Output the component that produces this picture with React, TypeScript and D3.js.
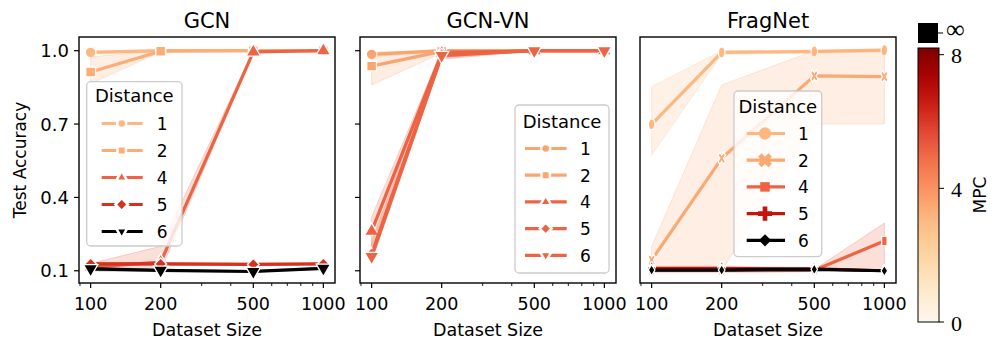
import React from 'react';
import * as d3 from 'd3';

// ---------- data ----------
const sizes = [100, 200, 500, 1000];
const distances = ['1', '2', '4', '5', '6'];
const panelTitles = ['GCN', 'GCN-VN', 'FragNet'];
const yTicks = [0.1, 0.4, 0.7, 1.0];
const xTicks = [100, 200, 500, 1000];
const xMinorTicks = [90, 300, 400, 600, 700, 800, 900];
const cbarTicks = [0, 4, 8];

// MPC per distance (Infinity = black)
const gcnMPC = [3, 3.3, 5, 6, Infinity];
const gcnvnMPC = [3.5, 3.5, 5, 5, 5];
const fragMPC = [3, 3.4, 5, 6.6, Infinity];

// GCN
const gcnMean = [
  [0.993, 1.0, 1.0, 1.0],
  [0.913, 0.998, 1.0, 1.0],
  [0.115, 0.135, 0.995, 1.0],
  [0.128, 0.128, 0.126, 0.128],
  [0.108, 0.102, 0.097, 0.11],
];
const gcnLo = [
  [0.985, 0.997, 1.0, 1.0],
  [0.865, 0.995, 1.0, 1.0],
  [0.1, 0.1, 0.99, 1.0],
  [0.122, 0.122, 0.121, 0.124],
  [0.1, 0.098, 0.094, 0.106],
];
const gcnHi = [
  [1.0, 1.0, 1.0, 1.0],
  [0.975, 1.0, 1.0, 1.0],
  [0.13, 0.2, 1.0, 1.0],
  [0.134, 0.134, 0.131, 0.132],
  [0.115, 0.106, 0.1, 0.114],
];

// GCN-VN
const gcnvnMean = [
  [0.985, 1.0, 1.0, 1.0],
  [0.937, 0.997, 1.0, 1.0],
  [0.262, 0.99, 1.0, 1.0],
  [0.17, 0.985, 1.0, 1.0],
  [0.158, 0.98, 1.0, 1.0],
];
const gcnvnLo = [
  [0.975, 0.998, 1.0, 1.0],
  [0.86, 0.99, 1.0, 1.0],
  [0.2, 0.975, 1.0, 1.0],
  [0.14, 0.97, 1.0, 1.0],
  [0.14, 0.965, 1.0, 1.0],
];
const gcnvnHi = [
  [0.995, 1.0, 1.0, 1.0],
  [0.99, 1.0, 1.0, 1.0],
  [0.32, 1.0, 1.0, 1.0],
  [0.22, 1.0, 1.0, 1.0],
  [0.18, 1.0, 1.0, 1.0],
];

// FragNet
const fragMean = [
  [0.699, 0.993, 0.997, 1.002],
  [0.144, 0.56, 0.897, 0.894],
  [0.1, 0.1, 0.102, 0.222],
  [0.11, 0.11, 0.108, 0.1],
  [0.103, 0.103, 0.106, 0.1],
];
const fragLo = [
  [0.573, 0.985, 0.99, 0.995],
  [0.1, 0.1, 0.7, 0.7],
  [0.1, 0.1, 0.1, 0.1],
  [0.105, 0.105, 0.103, 0.097],
  [0.1, 0.1, 0.103, 0.097],
];
const fragHi = [
  [0.853, 1.0, 1.0, 1.008],
  [0.2, 0.86, 1.0, 1.0],
  [0.1, 0.1, 0.105, 0.295],
  [0.115, 0.115, 0.113, 0.103],
  [0.106, 0.106, 0.109, 0.103],
];

// ---------- layout / style ----------
const W = 997;
const H = 347;
const TOP = 37;
const BOTTOM = 283;
const PW = 256;
const panelLeft = [79, 360, 640];
const FONT = 'DejaVu Sans, sans-serif';
const SERIF = 'Liberation Serif, serif';

const circle = { type: d3.symbolCircle, rot: 0 };
const square = { type: d3.symbolSquare, rot: 0 };
const triUp = { type: d3.symbolTriangle, rot: 0 };
const triDown = { type: d3.symbolTriangle, rot: 180 };
const diamond = { type: d3.symbolSquare, rot: 45 };
const cross = { type: d3.symbolCross, rot: 0 };
const xMark = { type: d3.symbolCross, rot: 45 };

const panels = [
  {
    mean: gcnMean, lo: gcnLo, hi: gcnHi, mpc: gcnMPC,
    markers: [circle, square, triUp, diamond, triDown],
    msizes: [90, 95, 90, 70, 90], sx: 1, yLabels: true, yTicksOn: true,
    legend: { x: 86.7, y: 81.7, w: 95.3, h: 164.3, titleY: 101.5, y0: 123.5, step: 27, l1: 101.7, l2: 142.7, mx: 121.7, tx: 156.7, lsizes: [65, 70, 55, 80, 55], edge: true },
  },
  {
    mean: gcnvnMean, lo: gcnvnLo, hi: gcnvnHi, mpc: gcnvnMPC,
    markers: [circle, square, triUp, diamond, triDown],
    msizes: [90, 95, 90, 70, 90], sx: 1, yLabels: false, yTicksOn: true,
    legend: { x: 515, y: 105, w: 94, h: 168, titleY: 128, y0: 148.5, step: 26.7, l1: 525, l2: 566.7, mx: 545.7, tx: 580, lsizes: [65, 70, 55, 70, 55], edge: true },
  },
  {
    mean: fragMean, lo: fragLo, hi: fragHi, mpc: fragMPC,
    markers: [circle, xMark, square, cross, diamond],
    msizes: [95, 95, 85, 85, 60], sx: 0.6, yLabels: false, yTicksOn: false,
    legend: { x: 734, y: 91, w: 87.7, h: 165.7, titleY: 113, y0: 133.5, step: 26.7, l1: 746.7, l2: 785, mx: 765, tx: 798, lsizes: [120, 120, 90, 110, 75], edge: false },
  },
];

const colorOf = (m: number) => (m === Infinity ? '#000000' : d3.interpolateOrRd(m / 8));

function Marker({ spec, size, x, y, fill, stroke, sw, sx }: any) {
  const d = d3.symbol().type(spec.type).size(size)() as string;
  return (
    <path
      d={d}
      transform={`translate(${x},${y}) scale(${sx},1) rotate(${spec.rot})`}
      fill={fill}
      stroke={stroke}
      strokeWidth={sw}
      vectorEffect="non-scaling-stroke"
    />
  );
}

const yScale = d3.scaleLinear().domain([0.05, 1.056]).range([BOTTOM, TOP]);

function Panel({ idx }: { idx: number }) {
  const p = panels[idx];
  const left = panelLeft[idx];
  const x = d3
    .scaleLog()
    .domain([100 / Math.pow(10, 0.05), 1000 * Math.pow(10, 0.05)])
    .range([left, left + PW]);
  const idxs = sizes.map((_, i) => i);
  const area = (k: number) =>
    d3
      .area<number>()
      .x((i) => x(sizes[i]))
      .y0((i) => yScale(p.lo[k][i]))
      .y1((i) => yScale(p.hi[k][i]))(idxs) as string;
  const line = (k: number) =>
    d3
      .line<number>()
      .x((i) => x(sizes[i]))
      .y((i) => yScale(p.mean[k][i]))(idxs) as string;
  const L = p.legend;
  const cx = left + PW / 2;
  return (
    <g>
      <defs>
        <clipPath id={`clip${idx}`}>
          <rect x={left} y={TOP} width={PW} height={BOTTOM - TOP} />
        </clipPath>
      </defs>
      <g clipPath={`url(#clip${idx})`}>
        {distances.map((_, k) => (
          <g key={k}>
            <path d={area(k)} fill={colorOf(p.mpc[k])} fillOpacity={0.2} stroke={colorOf(p.mpc[k])} strokeOpacity={0.25} strokeWidth={1} />
            <path d={line(k)} fill="none" stroke={colorOf(p.mpc[k])} strokeWidth={3.2} strokeLinejoin="round" />
            {sizes.map((s, i) => (
              <Marker key={i} spec={p.markers[k]} size={p.msizes[k]} x={x(s)} y={yScale(p.mean[k][i])} fill={colorOf(p.mpc[k])} stroke="#ffffff" sw={1.3} sx={p.sx} />
            ))}
          </g>
        ))}
      </g>
      {/* frame */}
      <rect x={left} y={TOP} width={PW} height={BOTTOM - TOP} fill="none" stroke="#000" strokeWidth={1.4} />
      {/* x ticks */}
      {xTicks.map((t) => (
        <g key={t}>
          <line x1={x(t)} x2={x(t)} y1={BOTTOM} y2={BOTTOM + 5} stroke="#000" strokeWidth={1.2} />
          <text x={x(t)} y={309.5} textAnchor="middle" fontSize={17.5} fontFamily={FONT}>{t}</text>
        </g>
      ))}
      {xMinorTicks.map((t) => (
        <line key={t} x1={x(t)} x2={x(t)} y1={BOTTOM} y2={BOTTOM + 3} stroke="#000" strokeWidth={0.9} />
      ))}
      <text x={cx} y={336} textAnchor="middle" fontSize={17.5} fontFamily={FONT}>Dataset Size</text>
      {/* y ticks */}
      {p.yTicksOn &&
        yTicks.map((t) => (
          <g key={t}>
            <line x1={left - 5} x2={left} y1={yScale(t)} y2={yScale(t)} stroke="#000" strokeWidth={1.2} />
            {p.yLabels && (
              <text x={left - 10} y={yScale(t) + 6.5} textAnchor="end" fontSize={18} fontFamily={FONT}>{t.toFixed(1)}</text>
            )}
          </g>
        ))}
      {p.yLabels && (
        <text transform={`translate(26,${(TOP + BOTTOM) / 2}) rotate(-90)`} textAnchor="middle" fontSize={17} fontFamily={FONT}>Test Accuracy</text>
      )}
      <text x={cx} y={27.5} textAnchor="middle" fontSize={21} fontFamily={FONT}>{panelTitles[idx]}</text>
      {/* legend */}
      <rect x={L.x} y={L.y} width={L.w} height={L.h} rx={4} fill="#ffffff" fillOpacity={0.8} stroke="#cccccc" strokeWidth={1.3} />
      <text x={L.x + L.w / 2} y={L.titleY} textAnchor="middle" fontSize={18} fontFamily={FONT}>Distance</text>
      {distances.map((dname, k) => {
        const ly = L.y0 + k * L.step;
        const c = colorOf(p.mpc[k]);
        return (
          <g key={dname}>
            <line x1={L.l1} x2={L.l2} y1={ly} y2={ly} stroke={c} strokeWidth={3.2} />
            <Marker spec={p.markers[k]} size={L.lsizes[k]} x={L.mx} y={ly} fill={c} stroke={L.edge ? '#ffffff' : 'none'} sw={L.edge ? 2.5 : 0} sx={1} />
            <text x={L.tx} y={ly + 6.5} fontSize={17} fontFamily={FONT}>{dname}</text>
          </g>
        );
      })}
    </g>
  );
}

function Colorbar() {
  const cy = d3.scaleLinear().domain([0, 8.2]).range([322, 48]);
  const stops = d3.range(0, 1.0001, 0.05);
  return (
    <g>
      <defs>
        <linearGradient id="cbgrad" x1="0" y1="1" x2="0" y2="0">
          {stops.map((t) => (
            <stop key={t} offset={`${t * 100}%`} stopColor={d3.interpolateOrRd(t)} />
          ))}
        </linearGradient>
      </defs>
      <rect x={918} y={23} width={20} height={20} fill="#000" />
      <line x1={938} x2={943} y1={33} y2={33} stroke="#000" strokeWidth={1} />
      <text x={946} y={38} fontSize={26} fontFamily={SERIF}>∞</text>
      <rect x={918} y={48} width={21} height={274} fill="url(#cbgrad)" stroke="#000" strokeWidth={1} />
      {cbarTicks.map((t) => (
        <g key={t}>
          <line x1={939} x2={944} y1={cy(t)} y2={cy(t)} stroke="#000" strokeWidth={1} />
          <text x={951} y={cy(t) + 8.5} fontSize={22} fontFamily={SERIF}>{t}</text>
        </g>
      ))}
      <text transform={`translate(986,195) rotate(-90)`} textAnchor="middle" fontSize={17} fontFamily={FONT}>MPC</text>
    </g>
  );
}

export default function App() {
  return (
    <svg width={W} height={H} style={{ position: 'absolute', left: 0, top: 0, background: '#fff' }} xmlns="http://www.w3.org/2000/svg">
      <rect x={0} y={0} width={W} height={H} fill="#fff" />
      {panels.map((_, i) => (
        <Panel key={i} idx={i} />
      ))}
      <Colorbar />
    </svg>
  );
}
